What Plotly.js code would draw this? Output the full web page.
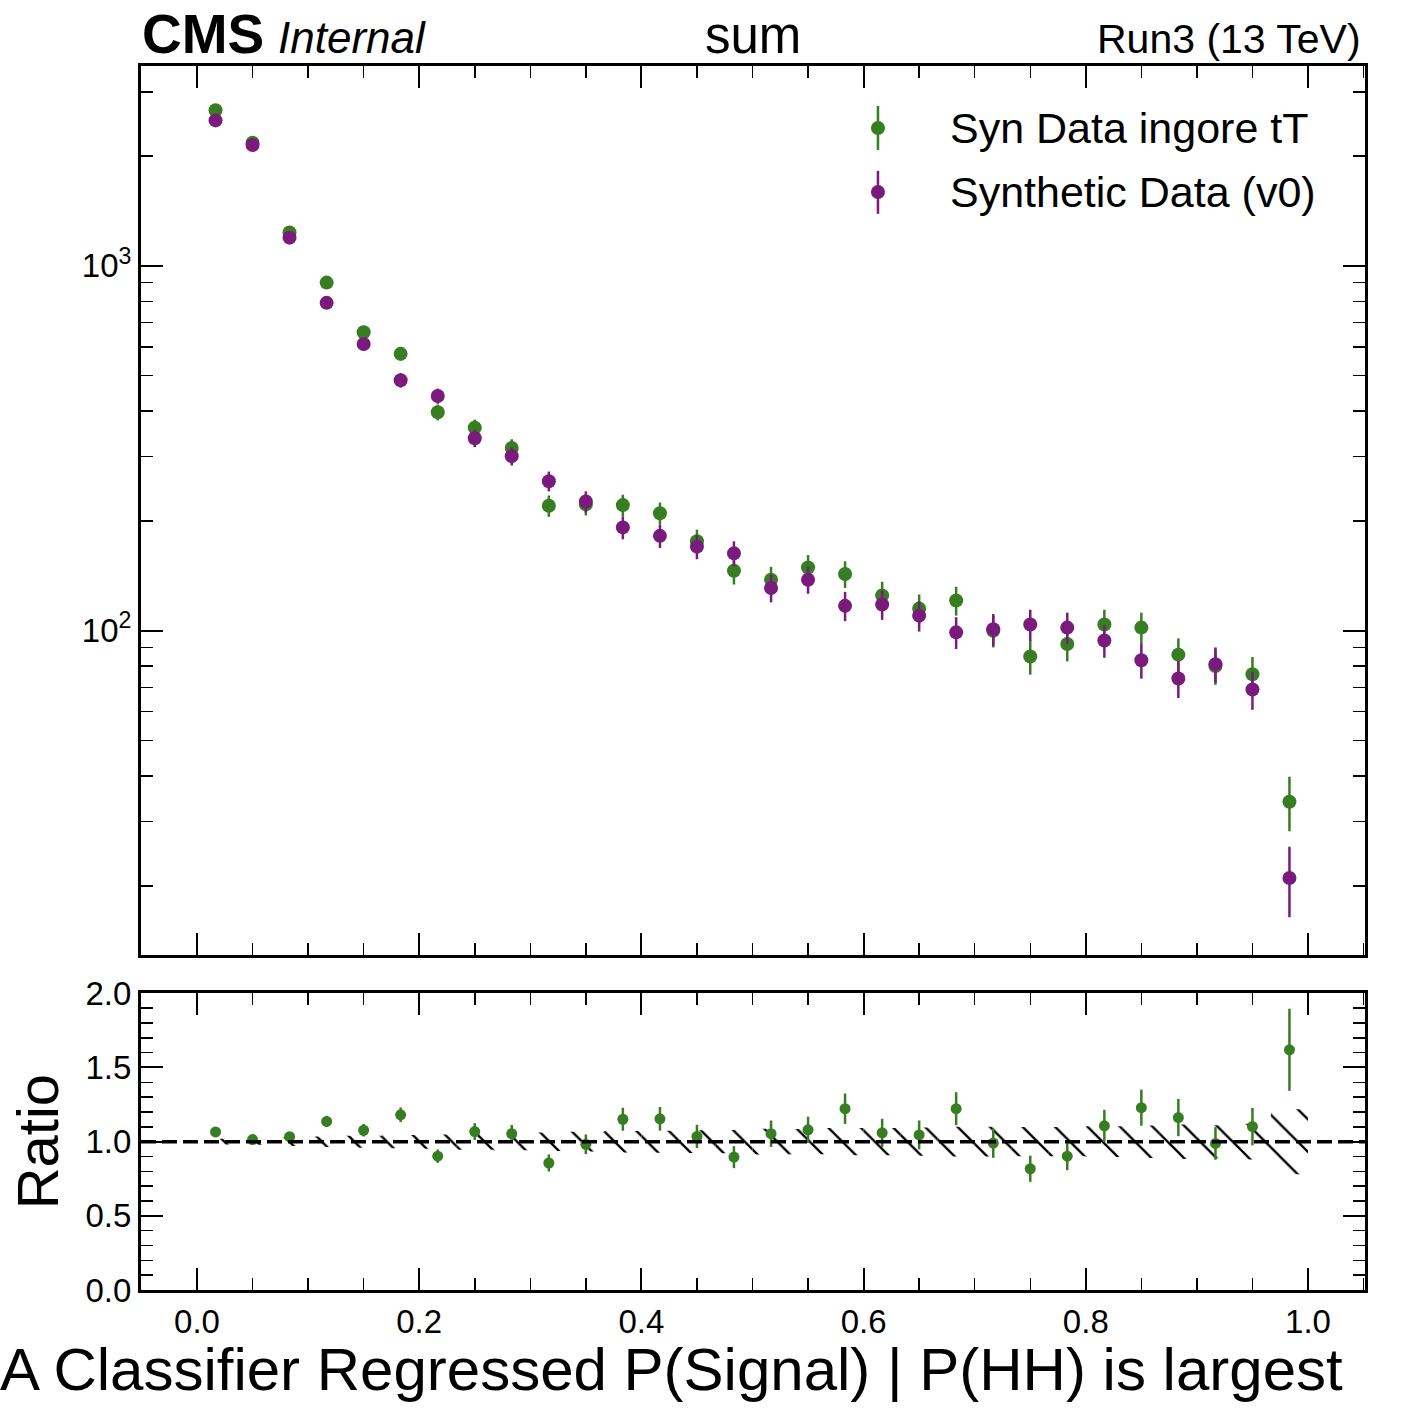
<!DOCTYPE html>
<html>
<head>
<meta charset="utf-8">
<script src="https://cdn.plot.ly/plotly-3.0.1.min.js"></script>
<style>html,body{margin:0;padding:0;background:#fff;}</style>
</head>
<body>
<div id="plot" style="width:1422px;height:1420px;"></div>
<script>
// ---- data (30 bins of width 1/30 on [0,1]) ----
const binCenters = [0.0167,0.05,0.0833,0.1167,0.15,0.1833,0.2167,0.25,0.2833,0.3167,
  0.35,0.3833,0.4167,0.45,0.4833,0.5167,0.55,0.5833,0.6167,0.65,
  0.6833,0.7167,0.75,0.7833,0.8167,0.85,0.8833,0.9167,0.95,0.9833];
const binWidth = 1/30;
const synIgnoreTT = [2670,2175,1235,900,658,574,397,360,317,220,
  222,221,210,176,146,138,149,143,125,115,
  121,100,85,92,104,102,86,80,76,34];
const synIgnoreTTErr = [51.7,46.6,35.1,30.0,25.7,24.0,19.9,19.0,17.8,14.8,
  14.9,14.9,14.5,13.3,12.1,11.7,12.2,12.0,11.2,10.7,
  11.0,10.0,9.2,9.6,10.2,10.1,9.3,8.9,8.7,5.8];
const synV0 = [2505,2145,1195,792,611,486,440,337,301,257,
  226,192,182,170,163,131,138,117,118,110,
  99,101,104,102,94,83,74,81,69,21];
const synV0Err = [50.1,46.3,34.6,28.1,24.7,22.0,21.0,18.4,17.3,16.0,
  15.0,13.9,13.5,13.0,12.8,11.4,11.7,10.8,10.9,10.5,
  9.9,10.1,10.2,10.1,9.7,9.1,8.6,9.0,8.3,4.6];
const seriesNames = ['Syn Data ingore tT', 'Synthetic Data (v0)'];
const mainTickVals = [100, 1000];
const mainTickText = ['10<sup>2</sup>', '10<sup>3</sup>'];
const mainMinorVals = [20,30,40,50,60,70,80,90,200,300,400,500,600,700,800,900,2000,3000];

// ---- derived ratio ----
const ratio = synIgnoreTT.map((v,i)=>v/synV0[i]);
const ratioErr = synIgnoreTTErr.map((e,i)=>e/synV0[i]);
const bandHalf = synV0Err.map((e,i)=>e/synV0[i]);
const bandBase = bandHalf.map(h=>1-h);
const bandHeight = bandHalf.map(h=>2*h);

const GREEN = '#377d22';
const PURPLE = '#7a1a7d';
const FONT = 'Liberation Sans, Arial, Helvetica, sans-serif';

const traces = [
  {
    type:'bar', x: binCenters, y: bandHeight, base: bandBase, width: binWidth,
    xaxis:'x2', yaxis:'y2', showlegend:false, hoverinfo:'skip',
    marker:{color:'rgba(0,0,0,0)', line:{width:0},
      pattern:{shape:'\\', size:23, solidity:0.1, fgcolor:'#000', bgcolor:'rgba(0,0,0,0)', fillmode:'replace'}}
  },
  {
    type:'scatter', mode:'markers', name:seriesNames[0], showlegend:false,
    x: binCenters, y: synIgnoreTT, xaxis:'x', yaxis:'y',
    marker:{color:GREEN, size:14},
    error_y:{type:'data', array:synIgnoreTTErr, visible:true, width:0, thickness:2.5, color:GREEN}
  },
  {
    type:'scatter', mode:'markers', name:seriesNames[1], showlegend:false,
    x: binCenters, y: synV0, xaxis:'x', yaxis:'y',
    marker:{color:PURPLE, size:14},
    error_y:{type:'data', array:synV0Err, visible:true, width:0, thickness:2.5, color:PURPLE}
  },
  {
    type:'scatter', mode:'markers', showlegend:false,
    x: binCenters, y: ratio, xaxis:'x2', yaxis:'y2',
    marker:{color:GREEN, size:11},
    error_y:{type:'data', array:ratioErr, visible:true, width:0, thickness:2.5, color:GREEN}
  }
];

const axisCommon = {
  showline:true, linecolor:'#000', linewidth:3, mirror:'allticks',
  ticks:'inside', ticklen:22, tickwidth:2, tickcolor:'#000',
  showgrid:false, zeroline:false,
  tickfont:{family:FONT, size:33, color:'#000'}
};

// custom legend (marker + vertical error bar + label), positions in paper units
const legX = 0.6021, legTextX = 0.6593;
const legRows = [
  {y:0.9494, y0:0.9314, y1:0.9673, ty:0.9495, color:GREEN, name:seriesNames[0]},
  {y:0.8971, y0:0.8792, y1:0.9143, ty:0.8972, color:PURPLE, name:seriesNames[1]}
];
const legShapes = [];
const legAnn = [];
legRows.forEach(r=>{
  legShapes.push({type:'line', xref:'paper', yref:'paper', x0:legX, x1:legX, y0:r.y0, y1:r.y1,
    line:{color:r.color, width:2.5}});
  legShapes.push({type:'circle', xref:'paper', yref:'paper', xsizemode:'pixel', ysizemode:'pixel',
    xanchor:legX, yanchor:r.y, x0:-7, x1:7, y0:-7, y1:7, fillcolor:r.color, line:{width:0}});
  legAnn.push({text:r.name, xref:'paper', yref:'paper', x:legTextX, y:r.ty, xanchor:'left', yanchor:'middle',
    showarrow:false, font:{family:FONT, size:43, color:'#000'}});
});

const layout = {
  width:1422, height:1420,
  margin:{l:141, r:57, t:66, b:130},
  paper_bgcolor:'#fff', plot_bgcolor:'#fff',
  font:{family:FONT, color:'#000'},
  barmode:'overlay',
  showlegend:false,
  xaxis: Object.assign({}, axisCommon, {
    range:[-0.0504, 1.0513], anchor:'y', matches:'x2', showticklabels:false,
    dtick:0.2, tick0:0,
    minor:{dtick:0.05, tick0:0, ticklen:12, tickwidth:1.5, tickcolor:'#000', ticks:'inside'}
  }),
  yaxis: Object.assign({}, axisCommon, {
    type:'log', range:[1.1106, 3.5479], domain:[0.2735, 1], anchor:'x',
    tickmode:'array', tickvals:mainTickVals, ticktext:mainTickText,
    minor:{tickmode:'array', tickvals:mainMinorVals, ticklen:12, tickwidth:1.5, tickcolor:'#000', ticks:'inside'}
  }),
  xaxis2: Object.assign({}, axisCommon, {
    range:[-0.0504, 1.0513], anchor:'y2',
    dtick:0.2, tick0:0, tickformat:'.1f',
    minor:{dtick:0.05, tick0:0, ticklen:12, tickwidth:1.5, tickcolor:'#000', ticks:'inside'}
  }),
  yaxis2: Object.assign({}, axisCommon, {
    range:[0, 2], domain:[0, 0.2424], anchor:'x2',
    dtick:0.5, tick0:0, tickformat:'.1f',
    minor:{dtick:0.1, tick0:0, ticklen:12, tickwidth:1.5, tickcolor:'#000', ticks:'inside'},
    title:{text:'Ratio', font:{family:FONT, size:58, color:'#000'}, standoff:9}
  }),
  shapes:[
    {type:'line', xref:'x2 domain', yref:'y2', x0:0, x1:1, y0:1, y1:1,
     line:{color:'#000', width:3.5, dash:'15px,6px'}, layer:'above'}
  ].concat(legShapes),
  annotations:[
    {text:'<b>CMS</b>', xref:'paper', yref:'paper', x:0, y:1, xanchor:'left', yanchor:'bottom',
     showarrow:false, font:{family:FONT, size:55, color:'#000'}, xshift:-1, yshift:-1},
    {text:'<i>Internal</i>', xref:'paper', yref:'paper', x:0.11, y:1, xanchor:'left', yanchor:'bottom',
     showarrow:false, font:{family:FONT, size:44, color:'#000'}, yshift:2},
    {text:'sum', xref:'paper', yref:'paper', x:0.5, y:1, xanchor:'center', yanchor:'bottom',
     showarrow:false, font:{family:FONT, size:51, color:'#000'}, yshift:0},
    {text:'Run3 (13 TeV)', xref:'paper', yref:'paper', x:1, y:1, xanchor:'right', yanchor:'bottom',
     showarrow:false, font:{family:FONT, size:41, color:'#000'}, xshift:-2, yshift:2},
    {text:'A Classifier Regressed P(Signal) | P(HH) is largest', xref:'paper', yref:'paper',
     x:0.9837, y:-0.0653, xanchor:'right', yanchor:'middle', showarrow:false,
     font:{family:FONT, size:60, color:'#000'}}
  ].concat(legAnn)
};

Plotly.newPlot('plot', traces, layout, {displayModeBar:false, staticPlot:true});
</script>
</body>
</html>
